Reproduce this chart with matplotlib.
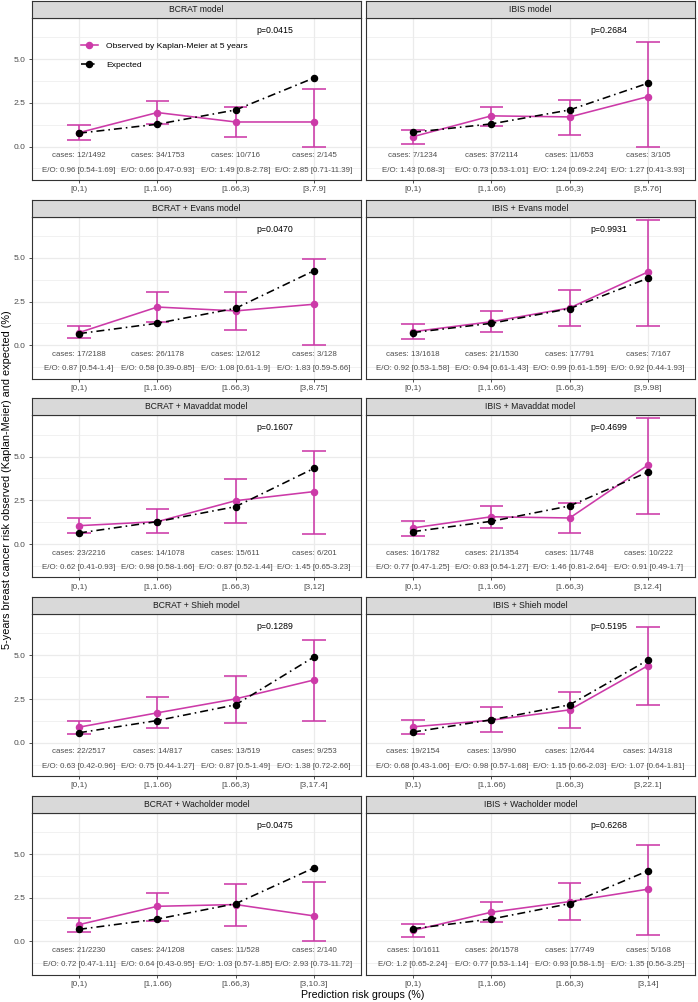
import numpy as np
import matplotlib
matplotlib.use("Agg")
import matplotlib.pyplot as plt
from matplotlib.lines import Line2D

plt.rcParams['font.family'] = ['Liberation Sans', 'DejaVu Sans']

groups = ['[0,1)', '[1,1.66)', '[1.66,3)']
last_group = ['[3,7.9]', '[3,5.76]', '[3,8.75]', '[3,9.98]', '[3,12]',
              '[3,12.4]', '[3,17.4]', '[3,22.1]', '[3,10.3]', '[3,14]']

titles = ['BCRAT model', 'IBIS model',
          'BCRAT + Evans model', 'IBIS + Evans model',
          'BCRAT + Mavaddat model', 'IBIS + Mavaddat model',
          'BCRAT + Shieh model', 'IBIS + Shieh model',
          'BCRAT + Wacholder model', 'IBIS + Wacholder model']

pvals = ['0.0415', '0.2684', '0.0470', '0.9931', '0.1607',
         '0.4699', '0.1289', '0.5195', '0.0475', '0.6268']

# observed (Kaplan-Meier) and its 95% CI
observed = [[0.80, 1.95, 1.41, 1.41], [0.57, 1.76, 1.70, 2.86],
            [0.73, 2.19, 1.97, 2.35], [0.78, 1.35, 2.14, 4.20],
            [1.05, 1.28, 2.48, 3.00], [0.92, 1.56, 1.49, 4.52],
            [0.89, 1.71, 2.51, 3.59], [0.91, 1.29, 1.88, 4.41],
            [0.96, 2.01, 2.11, 1.46], [0.63, 1.67, 2.28, 2.99]]
obs_low = [[0.36, 1.30, 0.55, 0.00], [0.13, 1.18, 0.69, 0.00],
           [0.40, 1.32, 0.86, 0.00], [0.36, 0.78, 1.11, 1.11],
           [0.61, 0.61, 1.22, 0.59], [0.48, 0.90, 0.61, 1.74],
           [0.51, 0.84, 1.14, 1.25], [0.49, 0.61, 0.82, 2.13],
           [0.56, 1.19, 0.86, 0.00], [0.25, 1.11, 1.21, 0.38]]
obs_high = [[1.26, 2.60, 2.25, 3.28], [0.97, 2.29, 2.67, 5.99],
            [1.13, 3.03, 3.03, 4.92], [1.20, 1.95, 3.17, 7.19],
            [1.47, 1.98, 3.70, 5.34], [1.34, 2.19, 2.35, 7.21],
            [1.24, 2.60, 3.82, 5.86], [1.29, 2.02, 2.89, 6.65],
            [1.34, 2.78, 3.31, 3.39], [1.02, 2.28, 3.35, 5.54]]
expected = [[0.77, 1.28, 2.10, 3.93], [0.82, 1.30, 2.10, 3.63],
            [0.67, 1.26, 2.12, 4.27], [0.73, 1.26, 2.10, 3.84],
            [0.63, 1.28, 2.14, 4.33], [0.71, 1.30, 2.18, 4.12],
            [0.57, 1.27, 2.17, 4.91], [0.61, 1.31, 2.17, 4.73],
            [0.69, 1.28, 2.16, 4.21], [0.73, 1.28, 2.16, 4.04]]

cases = [['12/1492', '34/1753', '10/716', '2/145'],
         ['7/1234', '37/2114', '11/653', '3/105'],
         ['17/2188', '26/1178', '12/612', '3/128'],
         ['13/1618', '21/1530', '17/791', '7/167'],
         ['23/2216', '14/1078', '15/611', '6/201'],
         ['16/1782', '21/1354', '11/748', '10/222'],
         ['22/2517', '14/817', '13/519', '9/253'],
         ['19/2154', '13/990', '12/644', '14/318'],
         ['21/2230', '24/1208', '11/528', '2/140'],
         ['10/1611', '26/1578', '17/749', '5/168']]
eo = [['0.96 [0.54-1.69]', '0.66 [0.47-0.93]', '1.49 [0.8-2.78]', '2.85 [0.71-11.39]'],
      ['1.43 [0.68-3]', '0.73 [0.53-1.01]', '1.24 [0.69-2.24]', '1.27 [0.41-3.93]'],
      ['0.87 [0.54-1.4]', '0.58 [0.39-0.85]', '1.08 [0.61-1.9]', '1.83 [0.59-5.66]'],
      ['0.92 [0.53-1.58]', '0.94 [0.61-1.43]', '0.99 [0.61-1.59]', '0.92 [0.44-1.93]'],
      ['0.62 [0.41-0.93]', '0.98 [0.58-1.66]', '0.87 [0.52-1.44]', '1.45 [0.65-3.23]'],
      ['0.77 [0.47-1.25]', '0.83 [0.54-1.27]', '1.46 [0.81-2.64]', '0.91 [0.49-1.7]'],
      ['0.63 [0.42-0.96]', '0.75 [0.44-1.27]', '0.87 [0.5-1.49]', '1.38 [0.72-2.66]'],
      ['0.68 [0.43-1.06]', '0.98 [0.57-1.68]', '1.15 [0.66-2.03]', '1.07 [0.64-1.81]'],
      ['0.72 [0.47-1.11]', '0.64 [0.43-0.95]', '1.03 [0.57-1.85]', '2.93 [0.73-11.72]'],
      ['1.2 [0.65-2.24]', '0.77 [0.53-1.14]', '0.93 [0.58-1.5]', '1.35 [0.56-3.25]']]

MAG = '#CC3AA8'
GRID = '#EBEBEB'
DARK = '#333333'
TXT = '#4D4D4D'

W, H = 698, 1002
fig = plt.figure(figsize=(W / 100, H / 100), dpi=100)

col_x = [32, 366]
pw, ph = 329, 162
row_top0, row_pitch, strip_h = 18, 198.7, 17

x = np.arange(1, 5)
for i in range(10):
    r, c = divmod(i, 2)
    top = row_top0 + row_pitch * r
    ax = fig.add_axes([col_x[c] / W, 1 - (top + ph) / H, pw / W, ph / H])
    st = fig.add_axes([col_x[c] / W, 1 - top / H, pw / W, strip_h / H])
    st.set_facecolor('#D9D9D9')
    st.set_xticks([]); st.set_yticks([])
    for s in st.spines.values():
        s.set_color(DARK); s.set_linewidth(0.8)
    st.text(0.5, 0.5, titles[i], ha='center', va='center', fontsize=6.2,
            color='#1A1A1A', transform=st.transAxes)

    ax.set_xlim(0.4, 4.6)
    ax.set_ylim(-1.91, 7.36)
    for gy in [-1.25, 1.25, 3.75, 6.25]:
        ax.axhline(gy, color=GRID, lw=0.5, zorder=0)
    for gy in [0, 2.5, 5.0]:
        ax.axhline(gy, color=GRID, lw=0.9, zorder=0)
    for gx in x:
        ax.axvline(gx, color=GRID, lw=0.9, zorder=0)

    lo = np.array(obs_low[i]); hi = np.array(obs_high[i])
    ax.vlines(x, lo, hi, color=MAG, lw=1.15, zorder=2)
    ax.hlines(lo, x - 0.15, x + 0.15, color=MAG, lw=1.15, zorder=2)
    ax.hlines(hi, x - 0.15, x + 0.15, color=MAG, lw=1.15, zorder=2)
    ax.plot(x, observed[i], color=MAG, lw=1.15, marker='o', ms=4.4, zorder=3)
    ax.plot(x, expected[i], color='black', lw=1.15, ls=(0, (5, 2.5, 1, 2.5)),
            marker='o', ms=4.4, zorder=4)

    for k in range(4):
        ax.text(x[k], -0.53, 'cases: ' + cases[i][k], ha='center', va='center',
                fontsize=5.7, color=TXT)
        ax.text(x[k], -1.34, 'E/O: ' + eo[i][k], ha='center', va='center',
                fontsize=5.7, color=TXT)
    ax.text(3.5, 6.65, 'p=' + pvals[i], ha='center', va='center', fontsize=6.3,
            color='black')

    ax.set_xticks(x)
    ax.set_xticklabels(groups + [last_group[i]])
    ax.tick_params(axis='x', length=2.5, width=0.6, color=DARK, labelsize=6.1,
                   labelcolor=TXT, pad=2)
    if c == 0:
        ax.set_yticks([0, 2.5, 5.0])
        ax.set_yticklabels(['0.0', '2.5', '5.0'])
        ax.tick_params(axis='y', length=2.5, width=0.6, color=DARK, labelsize=6.1,
                       labelcolor=TXT, pad=2)
    else:
        ax.set_yticks([])
    for s in ax.spines.values():
        s.set_color(DARK); s.set_linewidth(0.8)

    if i == 0:
        handles = [Line2D([], [], color=MAG, lw=1.15, marker='o', ms=4.4),
                   Line2D([], [], color='black', lw=1.15, ls=(0, (5, 2.5, 1, 2.5)),
                          marker='o', ms=4.4)]
        ax.legend(handles, ['Observed by Kaplan-Meier at 5 years', 'Expected'],
                  loc='upper left', bbox_to_anchor=(0.149, 0.85), frameon=False,
                  fontsize=6.1, handlelength=2.0, handletextpad=1.0,
                  labelspacing=1.3, borderpad=0, borderaxespad=0, numpoints=1)

fig.text(7 / W, 1 - 480 / H,
         '5-years breast cancer risk observed (Kaplan-Meier) and expected (%)',
         rotation=90, ha='center', va='center', fontsize=7.8)
fig.text(363 / W, 1 - 995 / H, 'Prediction risk groups (%)', ha='center',
         va='center', fontsize=7.7)

fig.savefig('out.png', dpi=100)
